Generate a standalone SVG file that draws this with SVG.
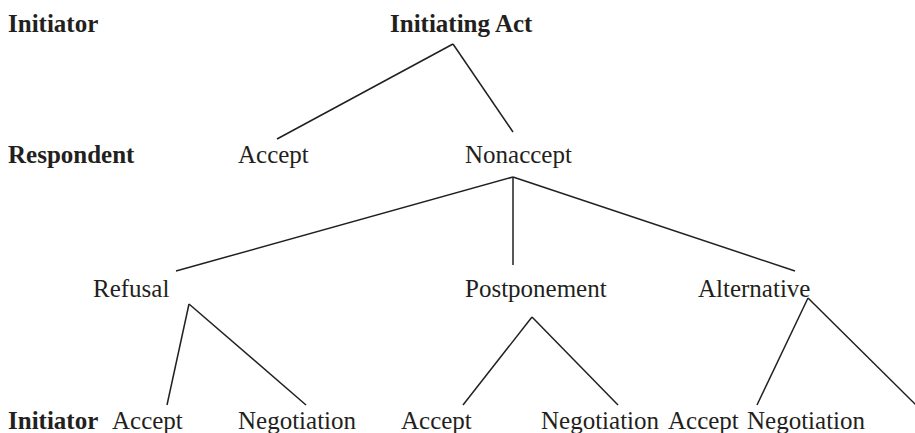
<svg xmlns="http://www.w3.org/2000/svg" width="915" height="433" viewBox="0 0 915 433">
<style>
text{font-family:"Liberation Serif","Times New Roman",serif;font-size:25px;fill:#231f20}
.b{font-weight:bold}
.c line{stroke:#231f20;stroke-width:1.5;fill:none}
</style>
<rect width="915" height="433" fill="#fff"/>
<g id="labels">
<text class="b" x="8" y="32">Initiator</text>
<text class="b" x="8" y="163">Respondent</text>
<text class="b" x="8" y="429">Initiator</text>
</g>
<g id="initiating-act"><text class="b" x="390" y="32">Initiating Act</text></g>
<g id="accept"><text x="238" y="163">Accept</text></g>
<g id="nonaccept"><text x="465" y="163">Nonaccept</text></g>
<g id="refusal"><text x="93" y="297">Refusal</text></g>
<g id="postponement"><text x="465" y="297">Postponement</text></g>
<g id="alternative"><text x="698" y="297">Alternative</text></g>
<g id="refusal-accept"><text x="112" y="429">Accept</text></g>
<g id="refusal-negotiation"><text x="238" y="429">Negotiation</text></g>
<g id="postponement-accept"><text x="401" y="429">Accept</text></g>
<g id="postponement-negotiation"><text x="541" y="429">Negotiation</text></g>
<g id="alternative-accept"><text x="668" y="429">Accept</text></g>
<g id="alternative-negotiation"><text x="747" y="429">Negotiation</text></g>
<g id="connectors" class="c">
<line x1="453" y1="44" x2="277" y2="139"/>
<line x1="453" y1="44" x2="513" y2="132"/>
<line x1="513" y1="177" x2="176" y2="271"/>
<line x1="513" y1="177" x2="513" y2="265"/>
<line x1="513" y1="177" x2="795" y2="271"/>
<line x1="189" y1="304" x2="167" y2="405"/>
<line x1="189" y1="304" x2="306" y2="405"/>
<line x1="532" y1="317" x2="463" y2="405"/>
<line x1="532" y1="317" x2="618" y2="405"/>
<line x1="808" y1="298" x2="757" y2="405"/>
<line x1="808" y1="298" x2="917" y2="406"/>
</g>
</svg>
